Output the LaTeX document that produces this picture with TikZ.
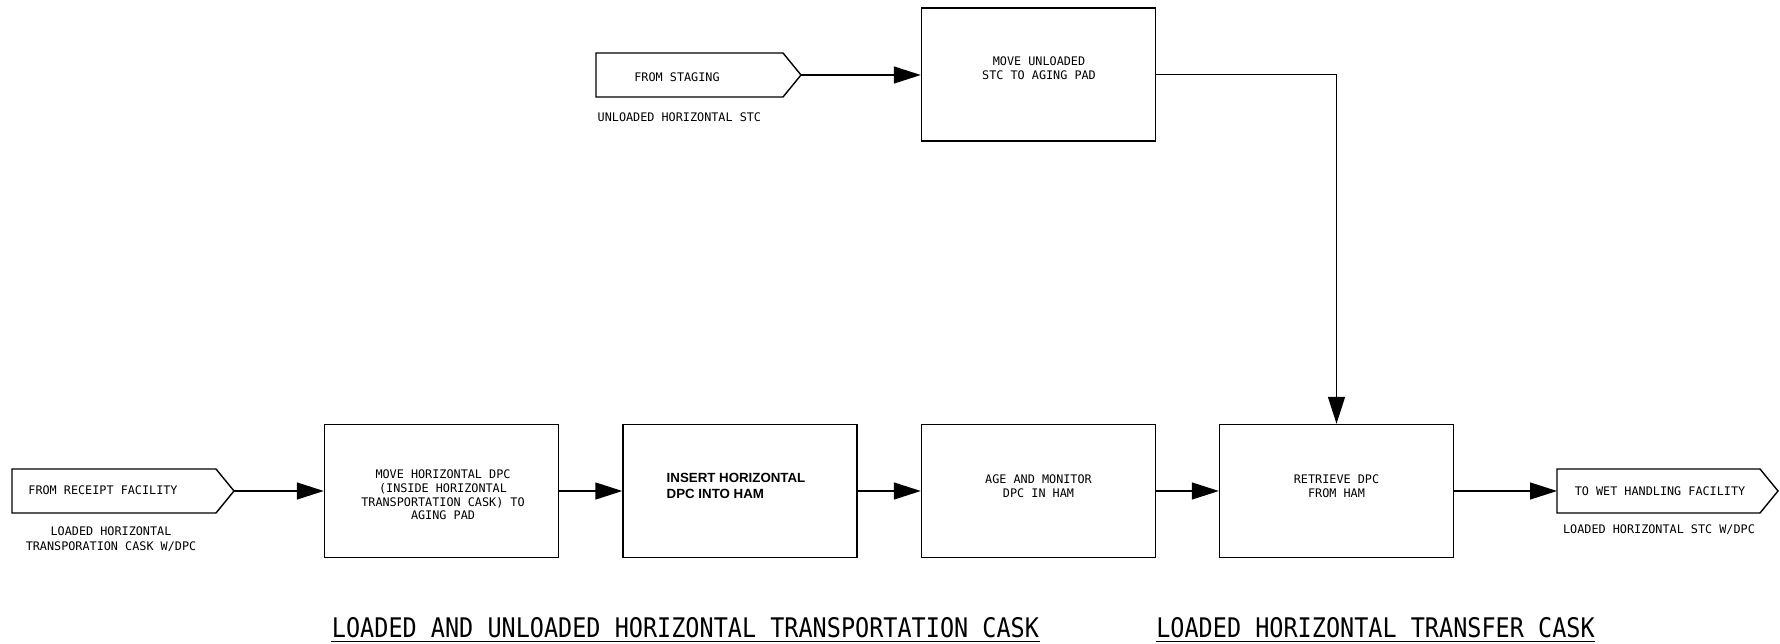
\documentclass[tikz,border=0pt]{standalone}
\usepackage{fontspec}
\newfontfamily\cadfont{DejaVu Sans Mono}
\newfontfamily\cadtitle{DejaVu Sans Mono}[FakeStretch=0.87]
\newfontfamily\arialfont{Liberation Sans}
\usetikzlibrary{arrows.meta}
\begin{document}
\begin{tikzpicture}[x=1pt,y=-1pt,line width=1.4pt,
  box/.style={draw, minimum width=234pt, minimum height=133pt, inner sep=0pt},
  cad/.style={font=\cadfont\fontsize{11.8}{13.6}\selectfont, inner sep=0pt, align=center},
  boldtxt/.style={font=\arialfont\bfseries\fontsize{13.3}{16}\selectfont, inner sep=0pt, align=left, anchor=west},
  arr/.style={-{Triangle[length=27pt,width=17pt]}},
  ttl/.style={font=\cadtitle\fontsize{27}{30}\selectfont, inner sep=0pt, anchor=base},
  uline/.style={line width=1.5pt}]
\useasboundingbox (0,0) rectangle (1780,644);

% boxes
\node[box] (top) at (1038.5,74.5) {};
\node[box] (b1) at (441.5,491) {};
\node[box] (b2) at (740,491) {};
\node[box] (b3) at (1038.5,491) {};
\node[box] (b4) at (1336.5,491) {};

% box texts
\node[cad] (toptxt) at (1039,68.5) {MOVE UNLOADED\\STC TO AGING PAD};
\node[cad] (b1txt) at (443,495) {MOVE HORIZONTAL DPC\\(INSIDE HORIZONTAL\\TRANSPORTATION CASK) TO\\AGING PAD};
\node[boldtxt] (b2txt) at (666,486) {INSERT HORIZONTAL\\DPC INTO HAM};
\node[cad] (b3txt) at (1038.5,486.5) {AGE AND MONITOR\\DPC IN HAM};
\node[cad] (b4txt) at (1336.5,486.5) {RETRIEVE DPC\\FROM HAM};

% pentagons
\draw (12,469) -- (216,469) -- (234,491) -- (216,513) -- (12,513) -- cycle;
\coordinate (recvtip) at (234,491);
\node[cad] (recv) at (103,490) {FROM RECEIPT FACILITY};
\node[cad, font=\cadfont\fontsize{11.8}{15}\selectfont] (recvlab) at (111,539.5) {LOADED HORIZONTAL\\TRANSPORATION CASK W/DPC};

\draw (596,53) -- (783,53) -- (801,75) -- (783,97) -- (596,97) -- cycle;
\coordinate (stgtip) at (801,75);
\node[cad] (stg) at (677,77) {FROM STAGING};
\node[cad, anchor=west] (stglab) at (597,117) {UNLOADED HORIZONTAL STC};

\draw (1557,469) -- (1760,469) -- (1778,491) -- (1760,513) -- (1557,513) -- cycle;
\coordinate (wetin) at (1557,491);
\node[cad] (wet) at (1660,491) {TO WET HANDLING FACILITY};
\node[cad] (wetlab) at (1659,530) {LOADED HORIZONTAL STC W/DPC};

% connectors
\draw[arr] (stgtip) -- (stgtip -| top.west);
\draw[arr] (top.east) -- (top.east -| b4.north) -- (b4.north);
\draw[arr] (recvtip) -- (recvtip -| b1.west);
\draw[arr] (b1.east) -- (b2.west);
\draw[arr] (b2.east) -- (b3.west);
\draw[arr] (b3.east) -- (b4.west);
\draw[arr] (b4.east) -- (wetin);

% titles
\node[ttl] (t1) at (685.5,637) {LOADED AND UNLOADED HORIZONTAL TRANSPORTATION CASK};
\node[ttl] (t2) at (1375.5,637) {LOADED HORIZONTAL TRANSFER CASK};
\draw[uline] ([yshift=-4.5pt]t1.base west) -- ([yshift=-4.5pt]t1.base east);
\draw[uline] ([yshift=-4.5pt]t2.base west) -- ([yshift=-4.5pt]t2.base east);
\end{tikzpicture}
\end{document}
